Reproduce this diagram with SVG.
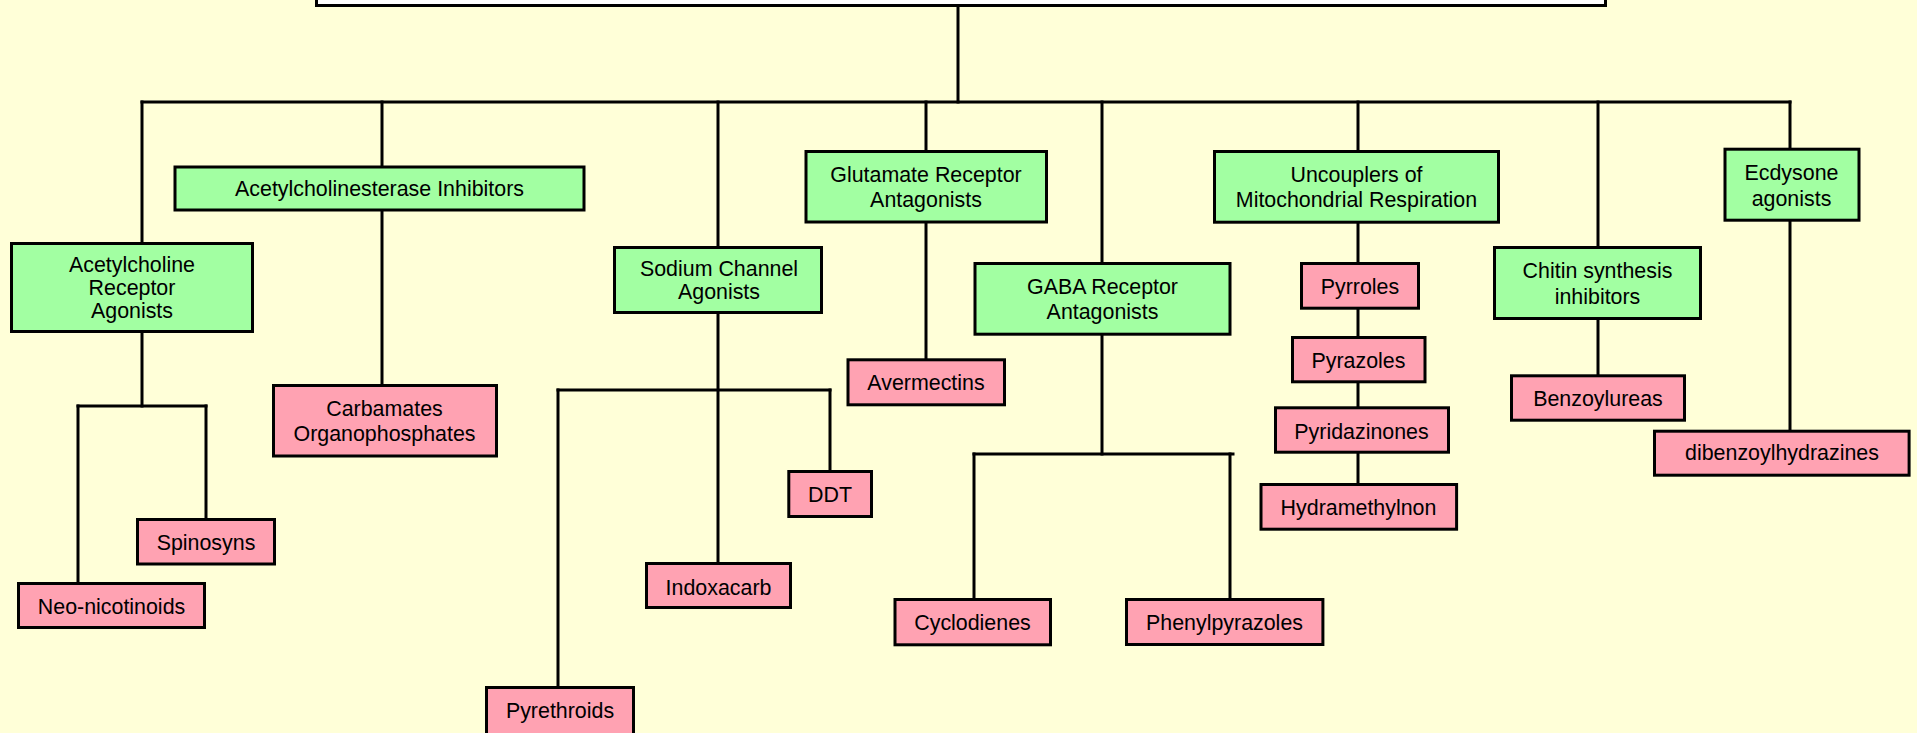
<svg xmlns="http://www.w3.org/2000/svg" width="1917" height="733" viewBox="0 0 1917 733">
<style>
.bg{fill:#FFFFD8}
.top{fill:#FFFFFF;stroke:#000;stroke-width:3}
.cls{fill:#A2FFA2;stroke:#000;stroke-width:3}
.grp{fill:#FFA2B2;stroke:#000;stroke-width:3}
.lines path{fill:none;stroke:#000;stroke-width:3;stroke-linecap:square}
text{font-family:"Liberation Sans",Arial,sans-serif;font-size:21.4px;fill:#000;text-anchor:middle}
</style>
<rect class="bg" x="0" y="0" width="1917" height="733"/>
<g id="connectors" class="lines">
<path d="M958 6V102"/>
<path d="M142 102H1790"/>
<path d="M142 102V242"/>
<path d="M382 102V166"/>
<path d="M718 102V246"/>
<path d="M926 102V150"/>
<path d="M1102 102V262"/>
<path d="M1358 102V150"/>
<path d="M1598 102V246"/>
<path d="M1790 102V148"/>
<path d="M142 333V406"/>
<path d="M78 406H206"/>
<path d="M78 406V582"/>
<path d="M206 406V518"/>
<path d="M382 211V384"/>
<path d="M718 314V562"/>
<path d="M558 390H830"/>
<path d="M558 390V686"/>
<path d="M830 390V470"/>
<path d="M926 224V358"/>
<path d="M1102 336V454"/>
<path d="M974 454H1233"/>
<path d="M974 454V598"/>
<path d="M1230 454V598"/>
<path d="M1358 224V262"/>
<path d="M1358 310V336"/>
<path d="M1358 383V406"/>
<path d="M1358 454V483"/>
<path d="M1598 320V374"/>
<path d="M1790 222V430"/>
</g>
<g id="root"><rect class="top" x="316.5" y="-10" width="1289" height="15.5"/></g>
<g id="ache"><rect class="cls" x="175" y="167" width="409" height="43"/><text x="379.5" y="196">Acetylcholinesterase Inhibitors</text></g>
<g id="achr"><rect class="cls" x="11.5" y="243.5" width="241" height="88"/><text x="132" y="272">Acetylcholine</text><text x="132" y="295">Receptor</text><text x="132" y="318">Agonists</text></g>
<g id="carbamates"><rect class="grp" x="273.5" y="385.5" width="223" height="70.5"/><text x="384.5" y="416">Carbamates</text><text x="384.5" y="441">Organophosphates</text></g>
<g id="spinosyns"><rect class="grp" x="137.5" y="519.5" width="137" height="44.5"/><text x="206" y="550">Spinosyns</text></g>
<g id="neonic"><rect class="grp" x="18.5" y="583.5" width="186" height="44"/><text x="111.5" y="614">Neo-nicotinoids</text></g>
<g id="sodium"><rect class="cls" x="614.5" y="247.5" width="207" height="65"/><text x="719" y="276">Sodium Channel</text><text x="719" y="299">Agonists</text></g>
<g id="pyrethroids"><rect class="grp" x="486.5" y="687.5" width="147" height="60"/><text x="560" y="718">Pyrethroids</text></g>
<g id="indoxacarb"><rect class="grp" x="646.5" y="563.5" width="144" height="44"/><text x="718.5" y="594.5">Indoxacarb</text></g>
<g id="ddt"><rect class="grp" x="788.8" y="471.5" width="82.7" height="45"/><text x="830" y="501.5">DDT</text></g>
<g id="glutamate"><rect class="cls" x="806" y="151.5" width="240.5" height="70.5"/><text x="926" y="182">Glutamate Receptor</text><text x="926" y="207">Antagonists</text></g>
<g id="avermectins"><rect class="grp" x="848" y="359.8" width="156.5" height="45"/><text x="926" y="390">Avermectins</text></g>
<g id="gaba"><rect class="cls" x="975" y="263.5" width="255" height="70.7"/><text x="1102.5" y="294">GABA Receptor</text><text x="1102.5" y="319">Antagonists</text></g>
<g id="cyclodienes"><rect class="grp" x="895" y="599.5" width="155.5" height="45.3"/><text x="972.5" y="630">Cyclodienes</text></g>
<g id="phenylpyrazoles"><rect class="grp" x="1126.5" y="599.5" width="196.4" height="45"/><text x="1224.5" y="630">Phenylpyrazoles</text></g>
<g id="uncouplers"><rect class="cls" x="1214.5" y="151.5" width="284" height="70.7"/><text x="1356.5" y="182">Uncouplers of</text><text x="1356.5" y="207">Mitochondrial Respiration</text></g>
<g id="pyrroles"><rect class="grp" x="1301.5" y="263.5" width="117" height="44.7"/><text x="1360" y="293.5">Pyrroles</text></g>
<g id="pyrazoles"><rect class="grp" x="1292.5" y="337.5" width="132.5" height="44.3"/><text x="1358.5" y="368">Pyrazoles</text></g>
<g id="pyridazinones"><rect class="grp" x="1275.5" y="407.8" width="173" height="44.4"/><text x="1361.5" y="438.5">Pyridazinones</text></g>
<g id="hydramethylnon"><rect class="grp" x="1261" y="484.5" width="195.6" height="44.7"/><text x="1358.5" y="515">Hydramethylnon</text></g>
<g id="chitin"><rect class="cls" x="1494.5" y="247.5" width="206" height="71"/><text x="1597.5" y="278">Chitin synthesis</text><text x="1597.5" y="304">inhibitors</text></g>
<g id="benzoylureas"><rect class="grp" x="1511.5" y="375.8" width="173" height="44.4"/><text x="1598" y="405.8">Benzoylureas</text></g>
<g id="ecdysone"><rect class="cls" x="1725" y="149.2" width="134" height="71"/><text x="1791.5" y="180">Ecdysone</text><text x="1791.5" y="205.5">agonists</text></g>
<g id="dibenzoyl"><rect class="grp" x="1654.5" y="431.2" width="254.6" height="44"/><text x="1782" y="460">dibenzoylhydrazines</text></g>
</svg>
